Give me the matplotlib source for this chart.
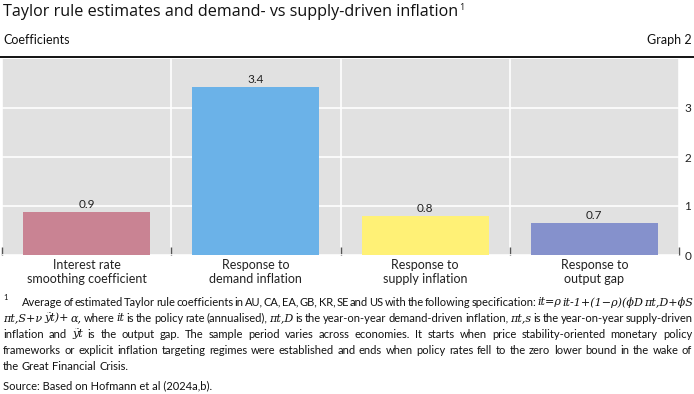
import matplotlib
matplotlib.use("Agg")
import matplotlib.pyplot as plt
from matplotlib import font_manager

categories = ["Interest rate\nsmoothing coefficient", "Response to\ndemand inflation",
              "Response to\nsupply inflation", "Response to\noutput gap"]
values = [0.88, 3.43, 0.80, 0.66]
value_labels = ["0.9", "3.4", "0.8", "0.7"]
bar_colors = ["#C98393", "#6BB2E8", "#FFF176", "#8591CC"]
y_ticks = [0, 1, 2, 3]

title = "Taylor rule estimates and demand- vs supply-driven inflation"
subtitle = "Coefficients"
graph_no = "Graph 2"
footnote_lines = [
    "Average of estimated Taylor rule coefficients in AU, CA, EA, GB, KR, SE and US with the following specification: ~it=ρ ~it-1+(1−ρ)(ϕD ~πt,D+ϕS",
    "~πt,S+ν ~ỹt)+ ~α, where ~it is the policy rate (annualised), ~πt,D is the year-on-year demand-driven inflation, ~πt,s is the year-on-year supply-driven",
    "inflation and ~ỹt is the output gap. The sample period varies across economies. It starts when price stability-oriented monetary policy",
    "frameworks or explicit inflation targeting regimes were established and ends when policy rates fell to the zero lower bound in the wake of",
    "the Great Financial Crisis.",
]
source = "Source: Based on Hofmann et al (2024a,b)."

avail = {f.name for f in font_manager.fontManager.ttflist}
body_font = "Lato" if "Lato" in avail else "DejaVu Sans"
title_font = "Open Sans" if "Open Sans" in avail else "DejaVu Sans"
plt.rcParams["font.family"] = [body_font, "DejaVu Sans"]

W, H = 694, 394
fig = plt.figure(figsize=(W / 100, H / 100), dpi=100)

def fx(x):
    return x / W

def fy(y):
    return 1 - y / H

# axes
ax_l, ax_r, ax_t, ax_b = 2, 679, 59, 255
ax = fig.add_axes([fx(ax_l), fy(ax_b), fx(ax_r - ax_l), (ax_b - ax_t) / H])
ax.set_facecolor("#E1E1E1")
x = list(range(len(values)))
ax.bar(x, values, width=0.75, color=bar_colors, zorder=3)
for xi, v, lab in zip(x, values, value_labels):
    ax.text(xi, v + 0.03, lab, ha="center", va="bottom", fontsize=8.5, color="#222222", zorder=4)
ax.set_xlim(-0.5, len(values) - 0.5)
ax.set_ylim(0, 4)
ax.set_yticks(y_ticks)
ax.yaxis.tick_right()
ax.tick_params(axis="y", length=0, labelsize=8.5, pad=4, labelcolor="#222222")
ax.set_xticks(x)
ax.set_xticklabels(categories, fontsize=9, linespacing=1.15, color="#222222")
ax.tick_params(axis="x", which="major", length=0, pad=3)
ax.set_xticks([i - 0.5 for i in range(len(values) + 1)], minor=True)
ax.tick_params(axis="x", which="minor", direction="in", length=6, width=1, color="#555555")
ax.grid(True, which="major", axis="y", color="white", lw=1.2, zorder=1)
ax.grid(True, which="minor", axis="x", color="white", lw=1.2, zorder=1)
for s in ax.spines.values():
    s.set_visible(False)

renderer = fig.canvas.get_renderer()

# header
tt = fig.text(fx(3), fy(12), title, fontsize=11.6, family=[title_font, "DejaVu Sans"],
              va="center", ha="left", color="#111111")
tw = tt.get_window_extent(renderer).x1
fig.text(tw / W + fx(1), fy(7), "1", fontsize=6.5, family=[title_font, "DejaVu Sans"],
         va="center", ha="left", color="#111111")
fig.lines.append(plt.Line2D([fx(0), fx(W)], [fy(57), fy(57)], transform=fig.transFigure, color="black", lw=1.3))
fig.text(fx(3), fy(40), subtitle, fontsize=9, va="center", ha="left", color="#111111")
fig.text(fx(692), fy(40), graph_no, fontsize=9, va="center", ha="right", color="#111111")


def draw_line(line, x0, y, x1, justify, fs=8.0):
    words = line.split(" ")
    arts = []
    for w in words:
        if w.startswith("~"):
            t = fig.text(0, fy(y), w[1:], fontsize=fs, family=["DejaVu Serif"], style="italic",
                         va="center", ha="left", color="#111111")
        else:
            t = fig.text(0, fy(y), w, fontsize=fs, va="center", ha="left", color="#111111")
        arts.append(t)
    widths = [a.get_window_extent(renderer).width for a in arts]
    sp = fig.text(0, 0, "a a", fontsize=fs)
    sp2 = fig.text(0, 0, "aa", fontsize=fs)
    space = sp.get_window_extent(renderer).width - sp2.get_window_extent(renderer).width
    sp.remove(); sp2.remove()
    if justify and len(words) > 1:
        gap = (x1 - x0 - sum(widths)) / (len(words) - 1)
    else:
        gap = space
    cur = x0
    for a, w in zip(arts, widths):
        a.set_x(fx(cur))
        cur += w + gap

# footnote
fig.text(fx(3), fy(298), "1", fontsize=5.5, va="center", ha="left", color="#111111")
ys = [302, 318, 334, 350, 366]
starts = [22, 3, 3, 3, 3]
ends = [693, 693, 692, 692, None]
for i, line in enumerate(footnote_lines):
    draw_line(line, starts[i], ys[i], ends[i], ends[i] is not None)
fig.text(fx(3), fy(386), source, fontsize=8.0, va="center", ha="left", color="#111111")

fig.savefig("out.png", dpi=100)
